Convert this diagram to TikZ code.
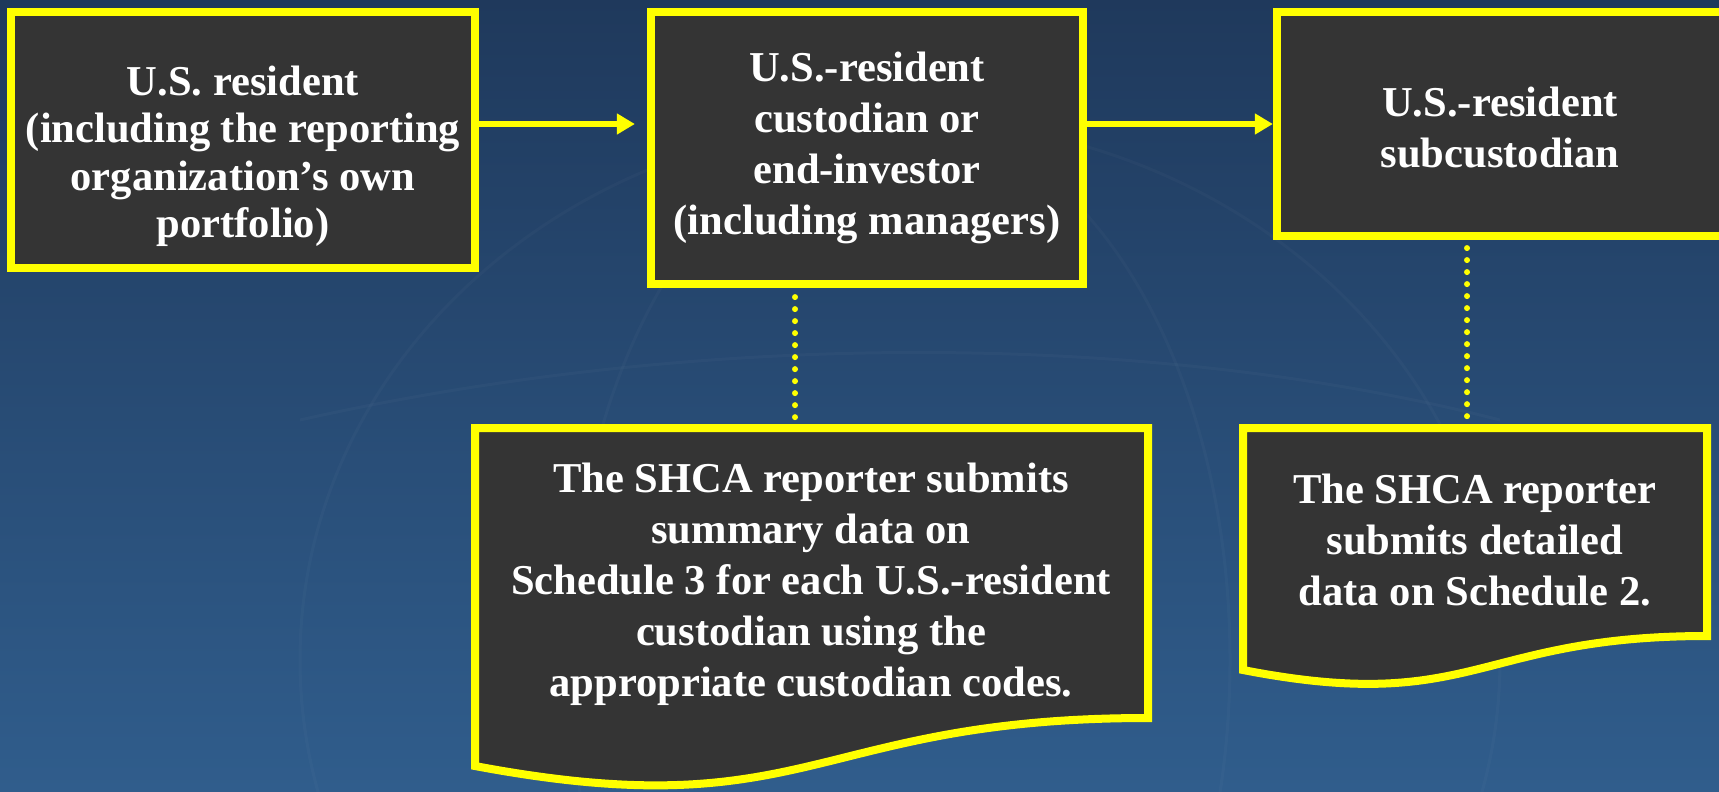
\documentclass[tikz,border=0pt]{standalone}
\usepackage{fontspec}
\setmainfont{Liberation Serif}
\usetikzlibrary{arrows.meta, positioning}
\definecolor{slidetop}{RGB}{31,57,92}
\definecolor{slidebottom}{RGB}{48,93,140}
\definecolor{boxgrey}{RGB}{52,52,52}
\definecolor{marker}{RGB}{255,255,0}

\begin{document}
\begin{tikzpicture}[
    x=0.01cm, y=-0.01cm,
    every node/.style={font=\fontsize{12.1}{14.5}\selectfont\bfseries, text=white, align=center},
    stage/.style={draw=marker, fill=boxgrey, line width=0.08cm, inner sep=0pt},
    noteframe/.style={draw=marker, fill=boxgrey, line width=0.08cm, line join=miter},
    flow/.style={draw=marker, line width=0.06cm, -{Triangle[length=0.18cm, width=0.2cm]}},
    link/.style={draw=marker, line width=0.06cm, line cap=round, dash pattern=on 0pt off 0.12cm}
]
    % backdrop with a faint globe
    \shade[top color=slidetop, bottom color=slidebottom] (0,0) rectangle (1719,791);
    \useasboundingbox (0,0) rectangle (1719,791);
    \begin{scope}[white, opacity=0.025, line width=0.03cm]
        \draw (900,660) ellipse (600 and 540);
        \draw (900,660) ellipse (330 and 540);
        \draw (300,420) .. controls (700,330) and (1150,330) .. (1500,420);
    \end{scope}

    % top row
    \node[stage, minimum width=4.64cm, minimum height=2.56cm,
          font=\fontsize{12.1}{13.4}\selectfont\bfseries] (resident) at (243,140)
        {\rule{0pt}{0.62cm}U.S. resident\\(including the reporting\\organization’s own\\portfolio)};
    \node[stage, minimum width=4.32cm, minimum height=2.72cm] (custodian) at (867,148)
        {U.S.-resident\\custodian or\\end-investor\\(including managers)};
    \node[stage, minimum width=4.46cm, minimum height=2.24cm] (subcustodian) at (1500,124)
        {\rule{0pt}{0.37cm}U.S.-resident\\subcustodian};

    \coordinate (flowline) at (0,124);
    \draw[flow, shorten >=0.12cm] (resident.east |- flowline) -- (custodian.west |- flowline);
    \draw[flow] (custodian.east |- flowline) -- (subcustodian.west |- flowline);

    % dotted links down to the notes
    \coordinate (summarytop) at (795,428);
    \coordinate (detailedtop) at (1467,428);
    \draw[link, dash phase=0.03cm] (custodian.south -| summarytop) -- (summarytop);
    \draw[link, dash phase=0.04cm] (subcustodian.south -| detailedtop) -- (detailedtop);

    % note frames with a wavy foot
    \draw[noteframe] (475,428) -- (1148,428) -- (1148,718)
        .. controls (811,718) and (811,829) .. (475,766) -- cycle;
    \draw[noteframe] (1243,428) -- (1707,428) -- (1707,636)
        .. controls (1475,636) and (1475,715) .. (1243,670) -- cycle;

    \node (summary) at (811,584)
        {The SHCA reporter submits\\summary data on\\Schedule 3 for each U.S.-resident\\custodian using the\\appropriate custodian codes.};
    \node (detailed) at (1475,540)
        {The SHCA reporter\\submits detailed\\data on Schedule 2.};
\end{tikzpicture}
\end{document}
